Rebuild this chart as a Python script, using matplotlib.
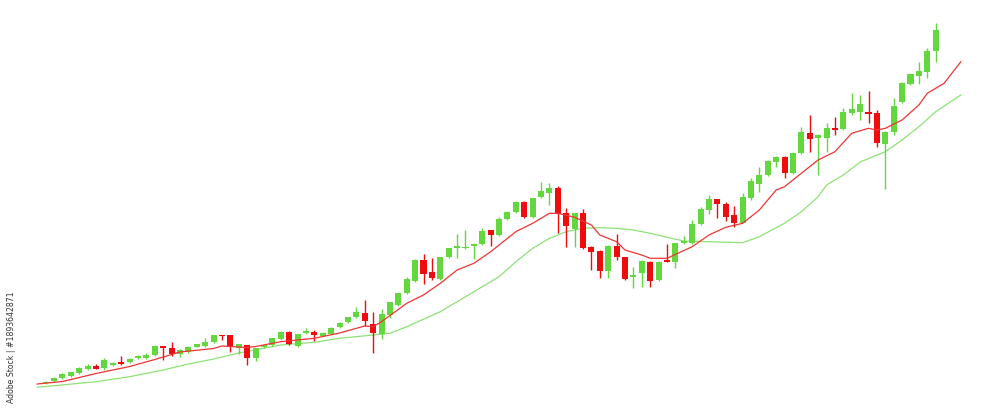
import matplotlib
matplotlib.use("Agg")
import matplotlib.pyplot as plt
import numpy as np

# OHLC, one row per session
opens = [28.7, 31, 33.7, 36, 39.3, 42.7, 46, 43.7, 47, 49.7,
         49.7, 54, 54, 57, 65.7, 64.3, 58, 60.3, 65.3, 66.3,
         70.3, 77, 77, 64.3, 67, 53.7, 65.3, 67, 73, 79.7,
         66.3, 78.7, 79.7, 76.5, 78.5, 85.3, 90, 94.7, 99.3, 88.3,
         78.5, 97, 107, 118.7, 131.3, 152, 140.3, 133.3, 154.7, 163.7,
         164.3, 165.7, 168.3, 182, 177, 192.7, 199.7, 210.3, 194.7, 214.7,
         219.3, 223.7, 198.7, 182.7, 198.7, 165.3, 161.3, 141.3, 166, 154.7,
         135.5, 138.7, 150.3, 132, 152, 150.3, 168.7, 169, 187.7, 202,
         212.7, 208, 197, 189.3, 213.7, 228, 237, 250.3, 255.3, 238.7,
         258.7, 279.3, 273.7, 273.7, 284.3, 282.7, 298.7, 300.3, 299.7, 299.3,
         268, 280.3, 310.3, 328, 336, 340.3, 361]
highs = [31, 35, 39, 40.3, 45, 48, 48.3, 54, 50, 55.7,
         54, 57.3, 58.7, 67, 66, 70, 63, 66, 68, 73.7,
         77.5, 77.5, 77.5, 68.3, 67.5, 64.3, 67.5, 74.3, 81, 81,
         78.3, 83.7, 82, 80, 85, 90, 95.3, 104.7, 112, 100.3,
         102.7, 110.3, 119.3, 134.7, 153.3, 158, 153.7, 155.3, 164.3, 178,
         182, 169, 183.7, 182.5, 194.7, 201, 211, 211, 214.3, 230.3,
         228.7, 226, 204.3, 199.3, 202.7, 166, 162, 166.7, 178, 155.3,
         145.3, 152, 151, 151, 168, 169.5, 176, 192, 205, 217,
         213.3, 210.3, 206, 218.7, 233.7, 245.3, 252, 256, 256, 260,
         285.3, 297, 277.7, 289.3, 294.7, 303.7, 319.3, 317, 321.3, 302,
         281, 313.7, 330.3, 338.3, 350.3, 363.7, 388.7]
lows = [28, 30.5, 33, 35.5, 38, 42, 42.7, 42, 46, 47,
        49, 53.3, 53.5, 56.5, 52.3, 56.3, 55, 59.5, 65, 65.5,
        69.5, 72, 59.7, 57.7, 47, 51, 64.5, 66.5, 72.5, 67,
        65, 78, 71, 76, 78, 84.5, 89.5, 94, 86, 59.3,
        72.7, 94.3, 106.5, 118, 130.5, 128, 132, 132.5, 154, 153.7,
        163, 152.7, 167.5, 166, 176.5, 192, 199, 194, 194, 214,
        207, 178.7, 165.3, 165.3, 163, 142, 133.7, 134, 152, 132,
        123.7, 125.3, 125.3, 131, 150, 144.3, 168, 168.5, 187, 198,
        193.7, 191.3, 184.7, 188.7, 212, 220.3, 236.5, 245.3, 233.7, 238,
        258, 260.3, 237, 260.3, 277, 282, 297, 292, 288.7, 264.7,
        222.7, 277, 309.5, 327.5, 327.7, 333.7, 350.3]
closes = [30, 34.3, 38.3, 39.7, 44.3, 46.3, 43.3, 51.7, 48.7, 48,
          53.3, 55.7, 57, 66, 64.3, 58.3, 62, 65.3, 67.7, 70.3,
          77, 76.3, 65.3, 67.7, 53.7, 63.7, 67, 73.7, 80.3, 67.7,
          77.7, 81, 77, 79.3, 84.3, 89.5, 94.7, 99.7, 91.5, 79.3,
          98, 109.7, 118.7, 132.7, 152, 138, 133.7, 154.7, 163.7, 166,
          165.3, 168.3, 180.7, 177.3, 192.7, 200.3, 210.3, 194.7, 213.7, 221.3,
          223.7, 198, 186, 198.7, 163.7, 160.3, 141.3, 166, 154.7, 132.7,
          137, 151, 131.3, 150.3, 150.5, 169, 171.3, 187.7, 202.7, 212.7,
          208, 194.7, 189.3, 215.3, 231, 237, 251.3, 255.3, 239.3, 259.3,
          280.3, 272.7, 277, 284.5, 282, 300, 302.7, 307.7, 297.7, 268.7,
          280.3, 306, 328.7, 337.7, 341, 361, 382]

# moving averages as drawn in the reference (session index, value)
fast_ma_idx = [-1, 2, 6, 10, 13, 16, 20, 21, 24, 25, 28, 32, 35, 38, 39, 40,
               43, 45, 47, 49, 51, 53, 54, 56, 58, 60, 61, 63, 65, 66, 68, 69,
               71, 72, 74, 77, 79, 81, 83, 85, 87, 88, 90, 92, 94, 96, 98, 99,
               100, 102, 104, 105, 107, 109]
fast_ma = [28, 30.5, 38.5, 45.5, 52.5, 60, 63.5, 66, 64.5, 65.5, 70.3, 73.7,
           79, 86, 85.3, 90.3, 108.7, 117, 128.7, 142, 148.7, 160.3, 167,
           180.3, 188.7, 198.7, 198.7, 194.7, 187, 177, 170.3, 162, 157,
           153.7, 153.7, 165.3, 177, 184.7, 188.7, 202, 222, 225.3, 238.7,
           252, 260.3, 278.7, 283.7, 282, 283.7, 292, 307, 318.7, 328.7, 350.3]
slow_ma_idx = [-1, 6, 10, 14, 17, 20, 23, 28, 32, 35, 39, 41, 43, 47, 51, 53,
               54, 56, 58, 60, 62, 64, 66, 68, 70, 72, 74, 76, 83, 85, 88, 90,
               92, 93, 95, 97, 100, 102, 104, 106, 109]
slow_ma = [24.7, 30.3, 35.3, 42, 48, 53, 59, 67, 69.7, 73.7, 77, 78.7, 85.3,
           100.3, 120.3, 130.3, 135.3, 150.3, 163.7, 173.7, 180.3, 183.7,
           184.3, 183.7, 182, 178.7, 174.7, 171, 169.3, 175.3, 188.7, 200.3,
           215.3, 227, 237, 250, 260.3, 272, 285.3, 300.3, 317]

UP = "#62d83e"
DOWN = "#ee0c0c"

fig = plt.figure(figsize=(10, 4.12), dpi=100)
ax = fig.add_axes([0, 0, 1, 1])
ax.set_xlim(-5.44, 113.66)
ax.set_ylim(0, 412)
ax.axis("off")

o = np.array(opens)
h = np.array(highs)
l = np.array(lows)
c = np.array(closes)
x = np.arange(len(o))
colors = np.where(c >= o, UP, DOWN)

ax.vlines(x, l, h, colors=colors, linewidth=1.0, zorder=2)
body = np.maximum(np.abs(c - o), 1.2)
ax.bar(x, body, bottom=np.minimum(o, c), width=0.72, color=colors,
       linewidth=0, zorder=3)

ax.plot(slow_ma_idx, slow_ma, color="#8ee276", linewidth=0.9, zorder=1)
ax.plot(fast_ma_idx, fast_ma, color="#f03434", linewidth=0.9, zorder=4)

fig.text(0.012, 0.022, "Adobe Stock | #1893642871", rotation=90,
         fontsize=5.6, color="#333333", ha="center", va="bottom")

fig.savefig("out.png", dpi=100)
